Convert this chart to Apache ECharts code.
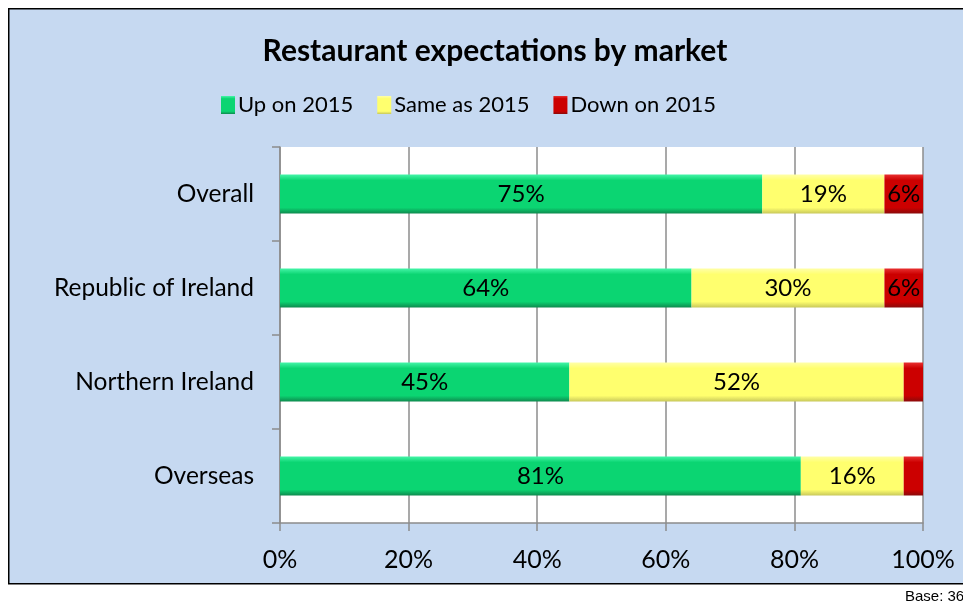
<!DOCTYPE html>
<html>
<head>
<meta charset="utf-8">
<script src="https://cdn.jsdelivr.net/npm/echarts@6/dist/echarts.min.js"></script>
<style>
  html, body { margin: 0; padding: 0; background: #fff; }
  #chart { width: 963px; height: 606px; }
</style>
</head>
<body>
<div id="chart"></div>
<script>
var markets = ["Overall", "Republic of Ireland", "Northern Ireland", "Overseas"];
var upOn2015 = [75, 64, 45, 81];
var sameAs2015 = [19, 30, 52, 16];
var downOn2015 = [6, 6, 3, 3];
var xTicks = [0, 20, 40, 60, 80, 100];

var chart = echarts.init(document.getElementById("chart"));

function grad(top, mid, bottom) {
  return new echarts.graphic.LinearGradient(0, 0, 0, 1, [
    { offset: 0, color: top },
    { offset: 0.15, color: mid },
    { offset: 0.85, color: mid },
    { offset: 1, color: bottom }
  ]);
}

var fontFam = "Lato, 'Open Sans', sans-serif";

function label(minShow) {
  return {
    show: true,
    position: "inside",
    color: "#000",
    fontSize: 24,
    fontFamily: fontFam,
    formatter: function (p) {
      return p.value < minShow ? "" : p.value + "%";
    }
  };
}

var option = {
  backgroundColor: "#fff",
  graphic: [
    {
      type: "rect",
      left: 8,
      top: 8,
      shape: { width: 1000, height: 575 },
      style: { fill: "#C6D9F1", stroke: "#000", lineWidth: 1.5 },
      z: -10
    },
    {
      type: "text",
      left: 905,
      top: 589,
      style: { text: "Base: 36", fill: "#000", font: "15px 'Liberation Sans', Arial, sans-serif" }
    }
  ],
  title: {
    text: "Restaurant expectations by market",
    left: 490,
    textAlign: "center",
    top: 31,
    textStyle: { fontSize: 30, fontWeight: "bold", color: "#000", fontFamily: fontFam }
  },
  legend: {
    top: 89,
    left: 216,
    itemWidth: 14,
    itemHeight: 18,
    itemGap: 24,
    icon: "rect",
    textStyle: { fontSize: 22, color: "#000", fontFamily: fontFam, padding: [0, 0, 0, -2] },
    data: ["Up on 2015", "Same as 2015", "Down on 2015"]
  },
  grid: {
    left: 280,
    right: 40,
    top: 147,
    bottom: 83,
    show: true,
    backgroundColor: "#fff",
    borderWidth: 0
  },
  xAxis: {
    type: "value",
    min: 0,
    max: 100,
    interval: 20,
    axisLine: { show: true, lineStyle: { color: "#8c8c8c", width: 1.5 } },
    axisTick: { show: true, length: 8, lineStyle: { color: "#8c8c8c", width: 1.5 } },
    splitLine: { show: true, lineStyle: { color: "#8c8c8c", width: 1.5 } },
    axisLabel: {
      margin: 24,
      fontSize: 25,
      color: "#000",
      fontFamily: fontFam,
      formatter: function (v) { return xTicks.indexOf(v) >= 0 ? v + "%" : ""; }
    }
  },
  yAxis: {
    type: "category",
    inverse: true,
    data: markets,
    axisLine: { show: true, lineStyle: { color: "#8c8c8c", width: 1.5 } },
    axisTick: { show: true, length: 8, lineStyle: { color: "#8c8c8c", width: 1.5 } },
    axisLabel: { margin: 26, fontSize: 24.5, color: "#000", fontFamily: fontFam }
  },
  series: [
    {
      name: "Up on 2015",
      type: "bar",
      stack: "total",
      barWidth: 39,
      data: upOn2015,
      itemStyle: { color: grad("#45F5A8", "#0BD572", "#0E8A4E") },
      label: label(5)
    },
    {
      name: "Same as 2015",
      type: "bar",
      stack: "total",
      data: sameAs2015,
      itemStyle: { color: grad("#FFFFA8", "#FFFF6E", "#C8C85A") },
      label: label(5)
    },
    {
      name: "Down on 2015",
      type: "bar",
      stack: "total",
      data: downOn2015,
      itemStyle: { color: grad("#E83030", "#CC0000", "#8A0A0A") },
      label: label(5)
    }
  ]
};

chart.setOption(option);
</script>
</body>
</html>
